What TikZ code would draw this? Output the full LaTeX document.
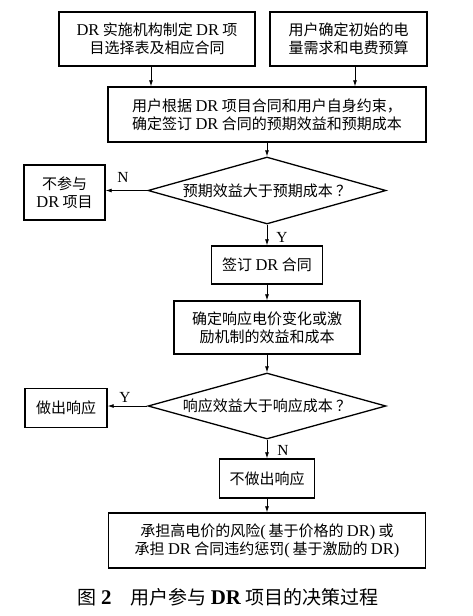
\documentclass[tikz,border=0pt]{standalone}
\usepackage{fontspec}
\setmainfont{Liberation Serif}
\newfontfamily\cjk{Noto Sans CJK SC}
\newfontfamily\latf{Liberation Serif}[Scale=1.1]
\newcommand{\lat}[1]{{\latf #1}}
\usetikzlibrary{shapes.geometric,arrows.meta}
\tikzset{
  box/.style={draw, line width=1.4pt, align=center, inner sep=0pt,
    font=\cjk\fontsize{15}{18}\selectfont},
  decision/.style={diamond, aspect=3.55, draw, line width=1.3pt, align=center, inner sep=0pt,
    font=\cjk\fontsize{15}{18}\selectfont},
  flow/.style={-{Latex[length=6pt,width=4pt]}, line width=0.8pt},
  tag/.style={font=\latf\fontsize{14}{16}\selectfont, inner sep=0pt}
}
\begin{document}
\begin{tikzpicture}[x=1pt,y=-1pt]
  \useasboundingbox[fill=white] (0,0) rectangle (473,616);

  \node[box, minimum width=196pt, minimum height=54pt] (plan) at (157,39) {\lat{DR} 实施机构制定 \lat{DR} 项\\目选择表及相应合同};
  \node[box, minimum width=157pt, minimum height=54pt] (need) at (348.5,39) {用户确定初始的电\\量需求和电费预算};
  \node[box, minimum width=318pt, minimum height=55pt] (eval) at (267,114.5) {用户根据 \lat{DR} 项目合同和用户自身约束，\\确定签订 \lat{DR} 合同的预期效益和预期成本};
  \node[decision, minimum width=238pt, minimum height=67pt] (gain) at (267,190.5) {预期效益大于预期成本 ？};
  \node[box, minimum width=81pt, minimum height=55pt] (skip) at (64.5,192.5) {不参与\\\lat{DR} 项目};
  \node[box, minimum width=111pt, minimum height=38pt] (sign) at (267,265) {签订 \lat{DR} 合同};
  \node[box, minimum width=186pt, minimum height=53pt] (resp) at (267,327.5) {确定响应电价变化或激\\励机制的效益和成本};
  \node[decision, minimum width=238pt, minimum height=66pt] (cmp) at (267,406) {响应效益大于响应成本 ？};
  \node[box, minimum width=82pt, minimum height=39pt] (act) at (66,408) {做出响应};
  \node[box, minimum width=95pt, minimum height=39pt] (noact) at (267,478.5) {不做出响应};
  \node[box, minimum width=317pt, minimum height=55pt] (risk) at (267,540.5) {承担高电价的风险\lat{(\,}基于价格的 \lat{DR)} 或\\承担 \lat{DR} 合同违约惩罚\lat{(\,}基于激励的 \lat{DR)}};

  \node[font=\cjk\fontsize{19}{22}\selectfont] (cap) at (228,597) {图 {\latf\bfseries 2}\quad 用户参与 {\latf\bfseries DR} 项目的决策过程};

  \draw[flow] ([xshift=-6pt]plan.south) -- ([xshift=-6pt]plan.south |- eval.north);
  \draw[flow] ([xshift=6.5pt]need.south) -- ([xshift=6.5pt]need.south |- eval.north);
  \draw[flow] (eval) -- (gain);
  \draw[flow] (gain.west) -- (gain.west -| skip.east);
  \draw[flow] (gain) -- (sign);
  \draw[flow] (sign) -- (resp);
  \draw[flow] (resp) -- (cmp);
  \draw[flow] (cmp.west) -- (cmp.west -| act.east);
  \draw[flow] (cmp) -- (noact);
  \draw[flow] (noact) -- (risk);

  \node[tag] (n1) at (123,177) {N};
  \node[tag] (y1) at (282,237) {Y};
  \node[tag] (y2) at (125,397) {Y};
  \node[tag] (n2) at (283,450) {N};
\end{tikzpicture}
\end{document}
